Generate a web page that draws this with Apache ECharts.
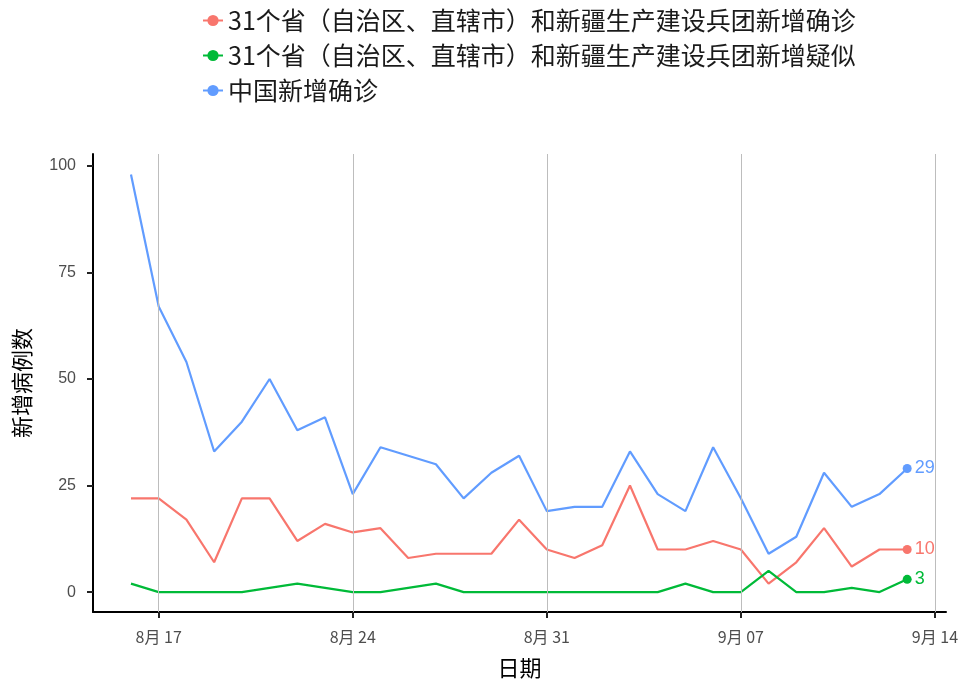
<!DOCTYPE html>
<html>
<head>
<meta charset="utf-8">
<script src="https://cdn.jsdelivr.net/npm/echarts@6/dist/echarts.min.js"></script>
<style>
html,body{margin:0;padding:0;background:#fff;}
#c{width:968px;height:684px;}
</style>
</head>
<body>
<div id="c"></div>
<script>
const dates = ['2020-08-16','2020-08-17','2020-08-18','2020-08-19','2020-08-20','2020-08-21','2020-08-22',
  '2020-08-23','2020-08-24','2020-08-25','2020-08-26','2020-08-27','2020-08-28','2020-08-29','2020-08-30',
  '2020-08-31','2020-09-01','2020-09-02','2020-09-03','2020-09-04','2020-09-05','2020-09-06','2020-09-07',
  '2020-09-08','2020-09-09','2020-09-10','2020-09-11','2020-09-12','2020-09-13'];
const confirmed31 = [22,22,17,7,22,22,12,16,14,15,8,9,9,9,17,10,8,11,25,10,10,12,10,2,7,15,6,10,10];
const suspected31 = [2,0,0,0,0,1,2,1,0,0,1,2,0,0,0,0,0,0,0,0,2,0,0,5,0,0,1,0,3];
const chinaConfirmed = [98,67,54,33,40,50,38,41,23,34,32,30,22,28,32,19,20,20,33,23,19,34,22,9,13,28,20,23,29];
const seriesNames = ['31个省（自治区、直辖市）和新疆生产建设兵团新增确诊','31个省（自治区、直辖市）和新疆生产建设兵团新增疑似','中国新增确诊'];
const xTickDates = ['2020-08-17','2020-08-24','2020-08-31','2020-09-07','2020-09-14'];
const yTicks = [0,25,50,75,100];

const colors = ['#F8766D','#00BA38','#619CFF'];
function ts(s){const p=s.split('-').map(Number);return Date.UTC(p[0],p[1]-1,p[2]);}
const DAY = 86400000;
const xMin = ts(dates[0]) - 1.37*DAY;
const xMax = ts(dates[dates.length-1]) + 1.4*DAY;
const yMin = -4.67, yMax = 102.8;

function mk(vals, color){
  return vals.map((v,i)=>{
    const item = {value:[ts(dates[i]), v]};
    if(i===vals.length-1){
      item.symbol='circle'; item.symbolSize=9;
      item.label={show:true,position:'right',distance:3,color:color,fontSize:18,fontFamily:'Liberation Sans, Arial',formatter:(p)=>p.value[1]};
    } else {
      item.symbol='none';
    }
    return item;
  });
}
const xTickTs = xTickDates.map(ts);
const fmt = v => { const d=new Date(v); return (d.getUTCMonth()+1)+'月 '+String(d.getUTCDate()).padStart(2,'0'); };

const chart = echarts.init(document.getElementById('c'));
const allVals=[confirmed31,suspected31,chinaConfirmed];
const series = allVals.map((vals,k)=>({
  name: seriesNames[k], type:'line', z:3,
  symbol:'circle', symbolSize:9,
  itemStyle:{color:colors[k]},
  lineStyle:{color:colors[k], width:2.2},
  data: mk(vals, colors[k]),
  animation:false
}));
series.unshift({
  name:'grid', type:'line', data:[], z:1, silent:true,
  markLine:{silent:true, symbol:'none', animation:false,
    lineStyle:{color:'#bdbdbd', width:1, type:'solid'},
    label:{show:false},
    data: xTickTs.map(t=>({xAxis:t}))}
});
chart.setOption({
  animation:false,
  color: colors,
  legend:{
    data: seriesNames, orient:'vertical', left:197, top:3, itemGap:10,
    itemWidth:20, itemHeight:14,
    textStyle:{fontSize:25, color:'#1a1a1a', fontFamily:'Noto Sans CJK SC'}
  },
  grid:{left:93, right:22, top:154, bottom:69, containLabel:false},
  xAxis:{
    type:'value', min:xMin, max:xMax,
    name:'日期', nameLocation:'middle', nameGap:45,
    nameTextStyle:{fontSize:22, color:'#000', fontFamily:'Noto Sans CJK SC'},
    axisLine:{show:true, onZero:false, lineStyle:{color:'#000', width:2}},
    axisTick:{show:true, length:6, customValues:xTickTs, lineStyle:{color:'#222', width:2}},
    axisLabel:{customValues:xTickTs, formatter:fmt, fontSize:16, color:'#4d4d4d', margin:17, fontFamily:'Noto Sans CJK SC'},
    splitLine:{show:false}
  },
  yAxis:{
    type:'value', min:yMin, max:yMax,
    name:'新增病例数', nameLocation:'middle', nameGap:60, nameRotate:90,
    nameTextStyle:{fontSize:22, color:'#000', fontFamily:'Noto Sans CJK SC'},
    axisLine:{show:true, onZero:false, lineStyle:{color:'#000', width:2}},
    axisTick:{show:true, length:6, customValues:yTicks, lineStyle:{color:'#222', width:2}},
    axisLabel:{customValues:yTicks, fontSize:16, color:'#4d4d4d', margin:17, fontFamily:'Liberation Sans, Arial'},
    splitLine:{show:false}
  },
  series: series
});
</script>
</body>
</html>
